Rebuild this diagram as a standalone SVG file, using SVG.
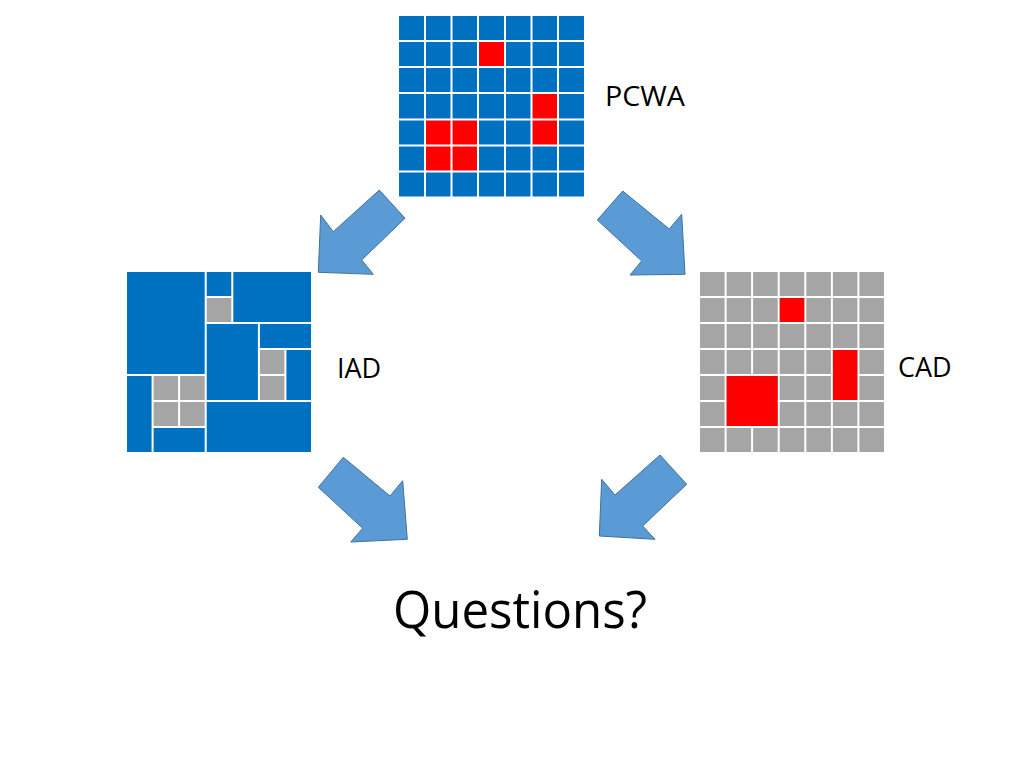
<svg xmlns="http://www.w3.org/2000/svg" width="1024" height="768" viewBox="0 0 1024 768">
<style>
.blue{fill:#0070c0}
.red{fill:#ff0000}
.gray{fill:#a5a5a5}
.grid{fill:none;stroke:#ffffff;stroke-width:2}
.arrow{fill:#5b9bd5;stroke:#41719c;stroke-width:1}
.lbl{font-family:"Open Sans","Liberation Sans",sans-serif;font-size:27px;fill:#000}
.big{font-family:"Open Sans","Liberation Sans",sans-serif;font-size:52px;fill:#000}
</style>
<rect width="1024" height="768" fill="#ffffff"/>
<g id="pcwa">
<rect class="blue" x="398" y="15" width="187" height="182.5"/>
<rect class="red" x="478" y="41" width="27" height="26"/>
<rect class="red" x="531.5" y="93" width="26.5" height="52.5"/>
<rect class="red" x="425" y="119.5" width="53" height="52"/>
<path class="grid" d="M398,15H585V197.5H398Z M425,15V197.5 M451.5,15V197.5 M478,15V197.5 M505,15V197.5 M531.5,15V197.5 M558,15V197.5 M398,41H585 M398,67H585 M398,93H585 M398,119.5H585 M398,145.5H585 M398,171.5H585"/>
<text class="lbl" x="605" y="106" textLength="80" lengthAdjust="spacingAndGlyphs">PCWA</text>
</g>
<g id="iad">
<rect class="blue" x="126" y="271" width="186" height="182"/>
<rect class="gray" x="205.7" y="297" width="26.6" height="26"/>
<rect class="gray" x="258.9" y="349" width="26.5" height="52"/>
<rect class="gray" x="152.6" y="375" width="53.1" height="52"/>
<path class="grid" d="M126,271H312V453H126Z M205.7,271V453 M232.3,271V323 M205.7,297H232.3 M205.7,323H312 M258.9,323V401 M258.9,349H312 M285.4,349V401 M258.9,375H285.4 M205.7,401H312 M126,375H205.7 M152.6,375V453 M152.6,427H205.7 M179.1,375V427 M152.6,401H205.7"/>
<text class="lbl" x="337" y="378">IAD</text>
</g>
<g id="cad">
<rect class="gray" x="699" y="271" width="186" height="182"/>
<path class="grid" d="M699,271H885V453H699Z M725.6,271V453 M752.1,271V453 M778.7,271V453 M805.3,271V453 M831.9,271V453 M858.4,271V453 M699,297H885 M699,323H885 M699,349H885 M699,375H885 M699,401H885 M699,427H885"/>
<rect class="red" x="779.7" y="298" width="24.6" height="24"/>
<rect class="red" x="832.9" y="350" width="24.5" height="50"/>
<rect class="red" x="726.6" y="376" width="51.1" height="50"/>
<text class="lbl" x="898" y="377">CAD</text>
</g>
<g id="connectors">
<polygon class="arrow" points="379.3,190 405,218.3 361.7,260 373.3,274.3 318.3,272.3 320.7,215 333.3,231.7"/>
<polygon class="arrow" points="622.7,191 597.3,220 641.7,261 630,275 685,274.3 681.7,214.3 669.3,229"/>
<polygon class="arrow" points="343.3,457.3 318.3,487.3 362.7,528.3 350.7,542 407.3,539.3 402.7,480.7 390,496"/>
<polygon class="arrow" points="660,455 686.7,484.3 642.7,526 655,539.3 599.3,536 601.7,479.3 615,495"/>
</g>
<g id="questions">
<text class="big" x="393" y="628" textLength="254" lengthAdjust="spacingAndGlyphs">Questions?</text>
</g>
</svg>
